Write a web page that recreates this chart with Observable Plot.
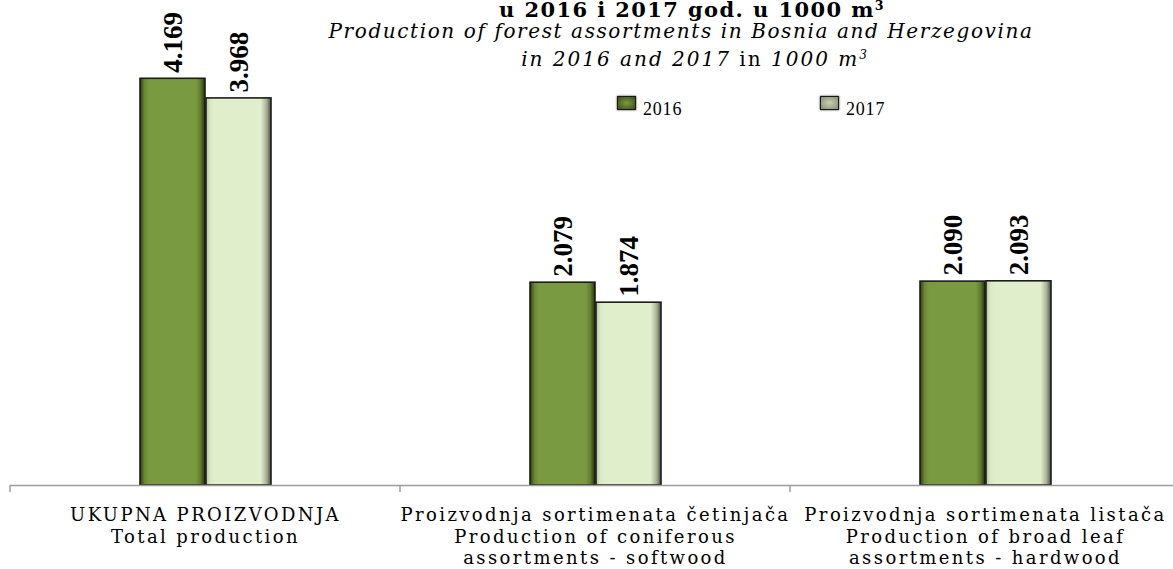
<!DOCTYPE html>
<html><head><meta charset="utf-8">
<script src="https://cdn.jsdelivr.net/npm/d3@7"></script>
<script src="https://cdn.jsdelivr.net/npm/@observablehq/plot@0.6"></script>
<style>
body{margin:0;background:#fff;}
#wrap{position:relative;width:1173px;height:569px;overflow:hidden;background:#fff;}
#chart{position:absolute;left:0;top:0;}
.t{position:absolute;width:1000px;text-align:center;white-space:nowrap;color:#000;font-family:"DejaVu Serif",serif;line-height:1;}
#t1{left:192px;top:-1px;font-size:21px;font-weight:bold;letter-spacing:1.4px;}
#t2{left:181px;top:21px;font-size:20px;font-style:italic;letter-spacing:1.6px;}
#t3{left:195px;top:49px;font-size:20px;font-style:italic;letter-spacing:2px;}
#t3 .u{font-style:normal;}
sup{font-size:60%;vertical-align:0.55em;line-height:0;}
.leg{position:absolute;top:94px;font-family:"Liberation Serif",serif;font-size:18px;letter-spacing:0.8px;}
.sw{position:absolute;width:17px;height:12px;top:2px;border:1.5px solid #1a1a1a;box-shadow:0 0 2px #333;}
.leg span.lab{position:absolute;top:5px;white-space:nowrap;}
#chart g[aria-label="fx-axis tick label"] text{letter-spacing:2.4px;}
</style></head>
<body>
<svg width="0" height="0" style="position:absolute">
<defs>
<linearGradient id="g2016" x1="0" x2="1" y1="0" y2="0">
<stop offset="0%" stop-color="#2f3c14"/><stop offset="7%" stop-color="#6a8832"/><stop offset="14%" stop-color="#7a9a42"/>
<stop offset="86%" stop-color="#7a9a42"/><stop offset="93%" stop-color="#5f7c2b"/><stop offset="100%" stop-color="#243010"/>
</linearGradient>
<linearGradient id="g2017" x1="0" x2="1" y1="0" y2="0">
<stop offset="0%" stop-color="#b9c3a3"/><stop offset="7%" stop-color="#dbe9c4"/><stop offset="14%" stop-color="#e1eecb"/>
<stop offset="84%" stop-color="#e1eecb"/><stop offset="93%" stop-color="#aab296"/><stop offset="100%" stop-color="#4a4d44"/>
</linearGradient>
</defs>
</svg>
<div id="wrap">
<div id="chart"></div>
<div class="t" id="t1">u 2016 i 2017 god. u 1000 m<sup>3</sup></div>
<div class="t" id="t2">Production of forest assortments in Bosnia and Herzegovina</div>
<div class="t" id="t3">in 2016 and 2017 <span class="u">in</span> 1000 m<sup>3</sup></div>
<div class="leg" style="left:617px"><div class="sw" style="left:0;background:radial-gradient(#7d9a3c,#3a4d16);"></div><span class="lab" style="left:26px">2016</span></div>
<div class="leg" style="left:820px"><div class="sw" style="left:0;background:radial-gradient(#c9d0b4,#868e72);"></div><span class="lab" style="left:26px">2017</span></div>
</div>
<script>
const categories = [
  "UKUPNA PROIZVODNJA\nTotal production",
  "Proizvodnja sortimenata četinjača\nProduction of coniferous\nassortments - softwood",
  "Proizvodnja sortimenata listača\nProduction of broad leaf\nassortments - hardwood"
];
const years = ["2016", "2017"];
const values2016 = [4.169, 2.079, 2.090];
const values2017 = [3.968, 1.874, 2.093];

const data = categories.flatMap((c, i) => [
  {cat: c, year: years[0], value: values2016[i]},
  {cat: c, year: years[1], value: values2017[i]}
]);

const plot = Plot.plot({
  width: 1173, height: 569,
  marginLeft: 9, marginRight: -8, marginTop: 46, marginBottom: 84,
  style: {fontFamily: "DejaVu Serif, serif", background: "transparent", color: "#000", overflow: "hidden"},
  fx: {domain: categories, padding: 0, label: null},
  x: {domain: years, paddingInner: 0.02, paddingOuter: 1.93, axis: null},
  y: {domain: [0, 4.5], axis: null},
  color: {type: "ordinal", domain: years, range: ["url(#g2016)", "url(#g2017)"]},
  marks: [
    Plot.barY(data, {fx: "cat", x: "year", y: "value", fill: "year", stroke: "#1c1c1c", strokeWidth: 1.6}),
    Plot.text(data, {fx: "cat", x: "year", y: "value", text: d => d3.format(".3f")(d.value),
      rotate: -90, textAnchor: "start", dy: -6, fontSize: 27, fontWeight: "bold",
      fontFamily: "Liberation Serif, serif", fill: "#000"}),
    Plot.ruleY([0], {stroke: "#9c9c9c", strokeWidth: 1.5}),
    Plot.axisFx({anchor: "bottom", tickSize: 0, tickPadding: 21, fontSize: 18, lineHeight: 1.17, label: null})
  ]
});
document.getElementById("chart").appendChild(plot);

// category boundary ticks, from the fx scale
const fx = plot.scale("fx");
const y0 = plot.scale("y").apply(0);
const edges = categories.map(c => fx.apply(c)).concat([fx.apply(categories[categories.length - 1]) + fx.bandwidth]);
const svg = d3.select(plot.tagName.toLowerCase() === "svg" ? plot : plot.querySelector("svg"));
svg.append("g").selectAll("line").data(edges).join("line")
  .attr("x1", d => d).attr("x2", d => d).attr("y1", y0).attr("y2", y0 + 7)
  .attr("stroke", "#9c9c9c").attr("stroke-width", 1.5);
</script>
</body></html>
